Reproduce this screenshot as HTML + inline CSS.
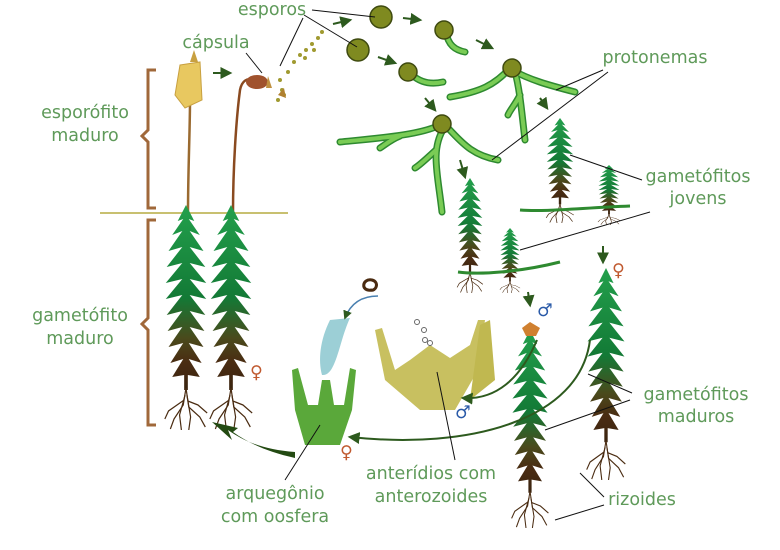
<!DOCTYPE html>
<html><head><meta charset="utf-8"><style>
html,body{margin:0;padding:0;background:#fff}
svg{display:block}
text{font-family:"DejaVu Sans","Liberation Sans",sans-serif;font-size:17.5px;fill:#5f9a5a}
</style></head><body>
<svg width="780" height="550" viewBox="0 0 780 550" xmlns="http://www.w3.org/2000/svg">
<defs>
<linearGradient id="g" x1="0" y1="0" x2="0" y2="1">
<stop offset="0" stop-color="#23a04c"/><stop offset="0.5" stop-color="#137a36"/><stop offset="0.72" stop-color="#4a4a1c"/><stop offset="0.85" stop-color="#4a2c12"/><stop offset="1" stop-color="#3a2410"/>
</linearGradient>
<symbol id="p" viewBox="0 0 50 225" preserveAspectRatio="none">
<polygon fill="url(#g)" points="25,0 16,16 22,14 10,30 21,26 6,46 21,42 4,62 21,58 3,78 21,74 3,94 21,90 4,110 21,106 5,126 21,122 6,142 22,138 8,158 22,154 10,172 23,170 23,185 27,185 27,170 40,172 28,154 42,158 28,138 44,142 29,122 45,126 29,106 46,110 29,90 47,94 29,74 47,78 29,58 46,62 29,42 44,46 29,26 40,30 28,14 34,16"/>
<g stroke="#4a2c12" stroke-width="1.3" fill="none">
<path d="M25,183 L22,200 L12,214 L8,224"/><path d="M25,183 L28,202 L40,212 L46,222"/><path d="M24,190 L18,210 L20,225"/><path d="M26,190 L30,212 L28,225"/><path d="M23,195 L6,206 L2,214"/><path d="M27,196 L38,200 L48,208"/>
</g>
</symbol>
<marker id="a" viewBox="0 0 10 10" refX="8" refY="5" markerWidth="6" markerHeight="6" orient="auto"><path d="M0,0 L10,5 L0,10z" fill="#2d5a1e"/></marker>
</defs>

<g stroke="#a0683a" stroke-width="3" fill="none">
<path d="M156,70 L148,70 L148,130 L142,136 L148,142 L148,208 L156,208"/>
<path d="M156,220 L148,220 L148,318 L142,324 L148,330 L148,425 L156,425"/>
</g>
<line x1="100" y1="213" x2="288" y2="213" stroke="#c8c070" stroke-width="2"/>

<path d="M188,213 C188,170 190,130 190,100" stroke="#9a6a30" stroke-width="2.5" fill="none"/>
<path d="M180,65 L200,62 L202,100 L185,108 L175,95z" fill="#e8c860" stroke="#c8a040"/>
<path d="M190,62 L194,50 L198,62z" fill="#c8a040"/>
<path d="M233,213 C233,170 236,120 240,90 C242,80 248,78 252,80" stroke="#8a4a20" stroke-width="2.5" fill="none"/>
<ellipse cx="257" cy="82" rx="11" ry="7" fill="#a0522d"/>
<path d="M268,76 L272,88 L266,88z" fill="#c09040"/>
<g fill="#a09a30">
<circle cx="280" cy="80" r="2"/><circle cx="284" cy="95" r="2"/><circle cx="278" cy="100" r="2"/><circle cx="288" cy="72" r="2"/><circle cx="294" cy="62" r="2"/><circle cx="300" cy="55" r="2"/><circle cx="306" cy="50" r="2"/><circle cx="312" cy="44" r="2"/><circle cx="318" cy="38" r="2"/><circle cx="322" cy="32" r="2"/><circle cx="305" cy="58" r="2"/><circle cx="314" cy="50" r="2"/><circle cx="282" cy="90" r="2"/>
</g>
<path d="M278,95 L284,88 L286,98z" fill="#b08030"/>

<g fill="#7f8a20" stroke="#3e4a10" stroke-width="1.5">
<circle cx="381" cy="17" r="11"/><circle cx="358" cy="50" r="11"/>
</g>
<g fill="none" stroke-linecap="round">
<g stroke="#2e8a30" stroke-width="7">
<path d="M446,32 C448,45 455,50 465,52"/>
<path d="M412,75 C420,82 430,85 443,82"/>
<path d="M510,68 C495,85 480,92 450,97"/>
<path d="M512,70 C530,80 548,85 575,92"/>
<path d="M515,72 C520,90 522,115 525,140"/>
<path d="M520,95 C515,105 510,110 508,115"/>
<path d="M440,125 C420,135 380,138 340,142"/>
<path d="M400,136 C390,140 385,145 380,148"/>
<path d="M444,128 C430,150 438,175 442,212"/>
<path d="M436,150 C425,160 420,165 415,168"/>
<path d="M446,126 C460,140 470,155 498,160"/>
</g>
<g stroke="#7acc55" stroke-width="4">
<path d="M446,32 C448,45 455,50 465,52"/>
<path d="M412,75 C420,82 430,85 443,82"/>
<path d="M510,68 C495,85 480,92 450,97"/>
<path d="M512,70 C530,80 548,85 575,92"/>
<path d="M515,72 C520,90 522,115 525,140"/>
<path d="M520,95 C515,105 510,110 508,115"/>
<path d="M440,125 C420,135 380,138 340,142"/>
<path d="M400,136 C390,140 385,145 380,148"/>
<path d="M444,128 C430,150 438,175 442,212"/>
<path d="M436,150 C425,160 420,165 415,168"/>
<path d="M446,126 C460,140 470,155 498,160"/>
</g></g>
<g fill="#7f8a20" stroke="#3e4a10" stroke-width="1.5">
<circle cx="444" cy="30" r="9"/><circle cx="408" cy="72" r="9"/><circle cx="512" cy="68" r="9"/><circle cx="442" cy="124" r="9"/>
</g>

<g stroke="#2d5a1e" stroke-width="2" marker-end="url(#a)">
<line x1="213" y1="73" x2="230" y2="73"/><line x1="333" y1="24" x2="350" y2="20"/><line x1="403" y1="18" x2="420" y2="20"/>
<line x1="476" y1="40" x2="492" y2="48"/><line x1="378" y1="57" x2="395" y2="63"/><line x1="425" y1="98" x2="435" y2="110"/>
<line x1="540" y1="98" x2="547" y2="108"/><line x1="460" y1="160" x2="465" y2="177"/><line x1="528" y1="292" x2="530" y2="305"/><line x1="603" y1="246" x2="603" y2="262"/>
</g>

<use href="#p" x="163" y="205" width="46" height="225"/>
<use href="#p" x="208" y="205" width="46" height="225"/>
<use href="#p" x="510" y="330" width="40" height="198"/>
<use href="#p" x="585" y="268" width="42" height="212"/>
<use href="#p" x="456" y="178" width="28" height="115"/>
<use href="#p" x="499" y="228" width="22" height="65"/>
<use href="#p" x="545" y="118" width="30" height="105"/>
<use href="#p" x="597" y="165" width="24" height="60"/>
<path d="M458,272 C480,275 520,272 560,262" stroke="#2e8a30" stroke-width="3" fill="none"/>
<path d="M520,210 C545,212 580,208 630,206" stroke="#2e8a30" stroke-width="3" fill="none"/>
<path d="M522,328 L530,322 L540,328 L536,336 L526,336z" fill="#d08030"/>

<path d="M305,445 L295,410 L292,370 L298,368 L308,405 L318,405 L322,380 L330,380 L334,405 L344,405 L350,368 L356,370 L352,410 L340,445z" fill="#5aa83a"/>
<path d="M330,320 C320,340 318,360 322,375 C332,376 336,360 342,340 C345,330 348,322 350,318z" fill="#9ccfd6"/>
<path d="M378,296 C360,296 350,305 345,318" stroke="#4a80b0" stroke-width="1.5" fill="none" marker-end="url(#a)"/>
<path d="M372,290 C360,292 362,278 372,280 C380,282 376,292 370,290" stroke="#4a2a10" stroke-width="3" fill="none"/>

<path d="M420,410 L385,380 L375,330 L382,328 L395,370 L410,360 L430,345 L450,358 L470,345 L478,320 L485,320 L478,370 L455,410z" fill="#c8c060"/>
<path d="M480,325 L490,320 L495,380 L470,400z" fill="#c0b850"/>
<g fill="none" stroke="#666" stroke-width="1"><circle cx="417" cy="322" r="2.5"/><circle cx="424" cy="330" r="2.5"/><circle cx="425" cy="340" r="2.5"/><circle cx="430" cy="343" r="2.5"/></g>

<path d="M537,340 C520,380 495,400 463,398" stroke="#2d5a1e" stroke-width="2" fill="none" marker-end="url(#a)"/>
<path d="M590,340 C580,420 470,450 350,437" stroke="#2d5a1e" stroke-width="2" fill="none" marker-end="url(#a)"/>
<path d="M295,452 C265,450 245,442 228,430 L232,440 L212,422 L238,428 L233,432 C250,444 268,452 295,458z" fill="#234a12"/>

<g font-family="DejaVu Sans" font-size="18">
<text x="250" y="378" style="fill:#c05a30">♀</text>
<text x="340" y="458" style="fill:#c05a30">♀</text>
<text x="612" y="276" style="fill:#c05a30">♀</text>
<text x="537" y="316" style="fill:#2a5aa8">♂</text>
<text x="455" y="418" style="fill:#2a5aa8">♂</text>
</g>

<g stroke="#111" stroke-width="1" fill="none">
<line x1="312" y1="10" x2="375" y2="17"/><line x1="304" y1="15" x2="357" y2="47"/><line x1="303" y1="18" x2="280" y2="66"/>
<line x1="246" y1="53" x2="262" y2="73"/>
<line x1="603" y1="70" x2="556" y2="90"/><line x1="608" y1="72" x2="492" y2="160"/>
<line x1="642" y1="180" x2="570" y2="155"/><line x1="650" y1="212" x2="520" y2="250"/>
<line x1="632" y1="393" x2="588" y2="374"/><line x1="630" y1="400" x2="545" y2="430"/>
<line x1="604" y1="497" x2="580" y2="473"/><line x1="604" y1="505" x2="555" y2="520"/>
<line x1="437" y1="372" x2="455" y2="460"/>
<line x1="320" y1="425" x2="285" y2="480"/>
</g>

<text x="272" y="15" text-anchor="middle">esporos</text>
<text x="216" y="48" text-anchor="middle">cápsula</text>
<text x="85" y="118" text-anchor="middle">esporófito</text>
<text x="85" y="141" text-anchor="middle">maduro</text>
<text x="80" y="321" text-anchor="middle">gametófito</text>
<text x="80" y="344" text-anchor="middle">maduro</text>
<text x="655" y="63" text-anchor="middle">protonemas</text>
<text x="698" y="182" text-anchor="middle">gametófitos</text>
<text x="698" y="204" text-anchor="middle">jovens</text>
<text x="696" y="400" text-anchor="middle">gametófitos</text>
<text x="696" y="422" text-anchor="middle">maduros</text>
<text x="642" y="505" text-anchor="middle">rizoides</text>
<text x="431" y="479" text-anchor="middle">anterídios com</text>
<text x="431" y="502" text-anchor="middle">anterozoides</text>
<text x="275" y="499" text-anchor="middle">arquegônio</text>
<text x="275" y="522" text-anchor="middle">com oosfera</text>
</svg>
</body></html>
